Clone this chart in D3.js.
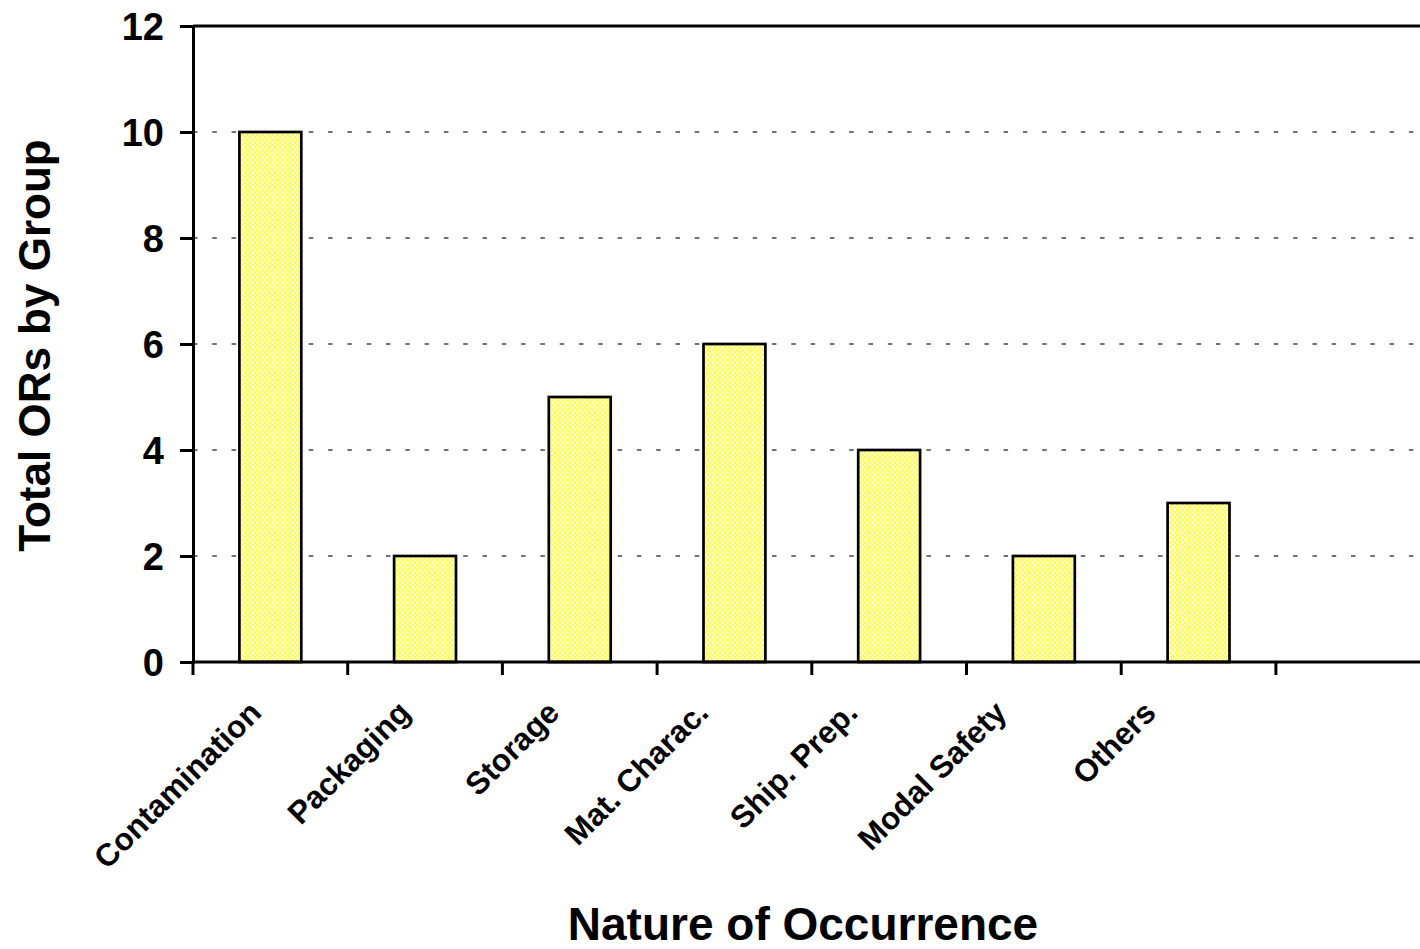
<!DOCTYPE html>
<html>
<head>
<meta charset="utf-8">
<script src="https://cdn.jsdelivr.net/npm/d3@7"></script>
<style>
  html, body { margin: 0; padding: 0; background: #ffffff; }
  svg { display: block; }
  text { font-family: "Liberation Sans", Arial, sans-serif; font-weight: bold; fill: #000; }
</style>
</head>
<body>
<svg id="chart" width="1420" height="949"></svg>
<script>
// ---- data ----
const categories = ["Contamination", "Packaging", "Storage", "Mat. Charac.", "Ship. Prep.", "Modal Safety", "Others"];
const values = [10, 2, 5, 6, 4, 2, 3];
const emptySlots = [""];           // an unused category slot at the right of the plot
const yTicks = [0, 2, 4, 6, 8, 10, 12];
const gridTicks = [2, 4, 6, 8, 10];
const yTitle = "Total ORs by Group";
const xTitle = "Nature of Occurrence";

// ---- layout ----
const svg = d3.select("#chart");
const plotLeft = 193, plotTop = 26, plotBottom = 662, step = 154.7;
const slots = categories.concat(emptySlots);

const x = d3.scaleBand().domain(slots).range([plotLeft, plotLeft + slots.length * step]).padding(0);
const y = d3.scaleLinear().domain([0, 12]).range([plotBottom, plotTop]);
const labelX = d3.scalePoint().domain(categories).range([263, 1157.6]);

// pattern fill for bars
const defs = svg.append("defs");
const pat = defs.append("pattern")
  .attr("id", "dots").attr("patternUnits", "userSpaceOnUse")
  .attr("width", 5).attr("height", 5);
pat.append("rect").attr("width", 5).attr("height", 5).attr("fill", "#ffffe0");
pat.append("circle").attr("cx", 2.5).attr("cy", 2.5).attr("r", 2)
  .attr("fill", "none").attr("stroke", "#ffff22").attr("stroke-width", 1);

// gridlines
svg.append("g").selectAll("line").data(gridTicks).join("line")
  .attr("x1", plotLeft).attr("x2", x.range()[1])
  .attr("y1", d => y(d)).attr("y2", d => y(d))
  .attr("stroke", "#444").attr("stroke-width", 1.4)
  .attr("stroke-dasharray", "4.5,14.8");

// bars
const bw = x.bandwidth() * 0.4;
svg.append("g").selectAll("rect").data(values).join("rect")
  .attr("x", (d, i) => x(categories[i]) + (x.bandwidth() - bw) / 2)
  .attr("width", bw)
  .attr("y", d => y(d))
  .attr("height", d => y(0) - y(d))
  .attr("fill", "url(#dots)")
  .attr("stroke", "#000").attr("stroke-width", 2.7);

// plot frame top line
svg.append("line")
  .attr("x1", plotLeft).attr("x2", x.range()[1])
  .attr("y1", y(12)).attr("y2", y(12))
  .attr("stroke", "#000").attr("stroke-width", 3);

// y axis
const yAxis = d3.axisLeft(y).tickValues(yTicks).tickSize(13).tickPadding(16).tickFormat(d3.format("d"));
const gy = svg.append("g").attr("transform", `translate(${plotLeft},0)`).call(yAxis);
gy.select(".domain").attr("stroke", "#000").attr("stroke-width", 3);
gy.selectAll(".tick line").attr("stroke", "#000").attr("stroke-width", 3);
gy.selectAll(".tick text")
  .attr("font-size", 38).attr("font-family", "'Liberation Sans', Arial, sans-serif")
  .attr("font-weight", "bold").attr("fill", "#000").attr("dy", "0.35em");

// x axis
const boundaries = slots.map(s => x(s)).concat([x.range()[1]]);
svg.append("line")
  .attr("x1", plotLeft).attr("x2", x.range()[1])
  .attr("y1", y(0)).attr("y2", y(0))
  .attr("stroke", "#000").attr("stroke-width", 3);
svg.append("g").selectAll("line").data(boundaries).join("line")
  .attr("x1", d => d).attr("x2", d => d)
  .attr("y1", y(0)).attr("y2", y(0) + 13)
  .attr("stroke", "#000").attr("stroke-width", 3);

// category labels
svg.append("g").selectAll("text").data(categories).join("text")
  .attr("transform", d => `translate(${labelX(d)},714.5) rotate(-45)`)
  .attr("text-anchor", "end")
  .attr("font-size", 31.5)
  .text(d => d);

// axis titles
svg.append("text")
  .attr("transform", "translate(50,345.5) rotate(-90)")
  .attr("text-anchor", "middle")
  .attr("font-size", 44)
  .text(yTitle);

svg.append("text")
  .attr("x", 803).attr("y", 940)
  .attr("text-anchor", "middle")
  .attr("font-size", 46)
  .text(xTitle);
</script>
</body>
</html>
